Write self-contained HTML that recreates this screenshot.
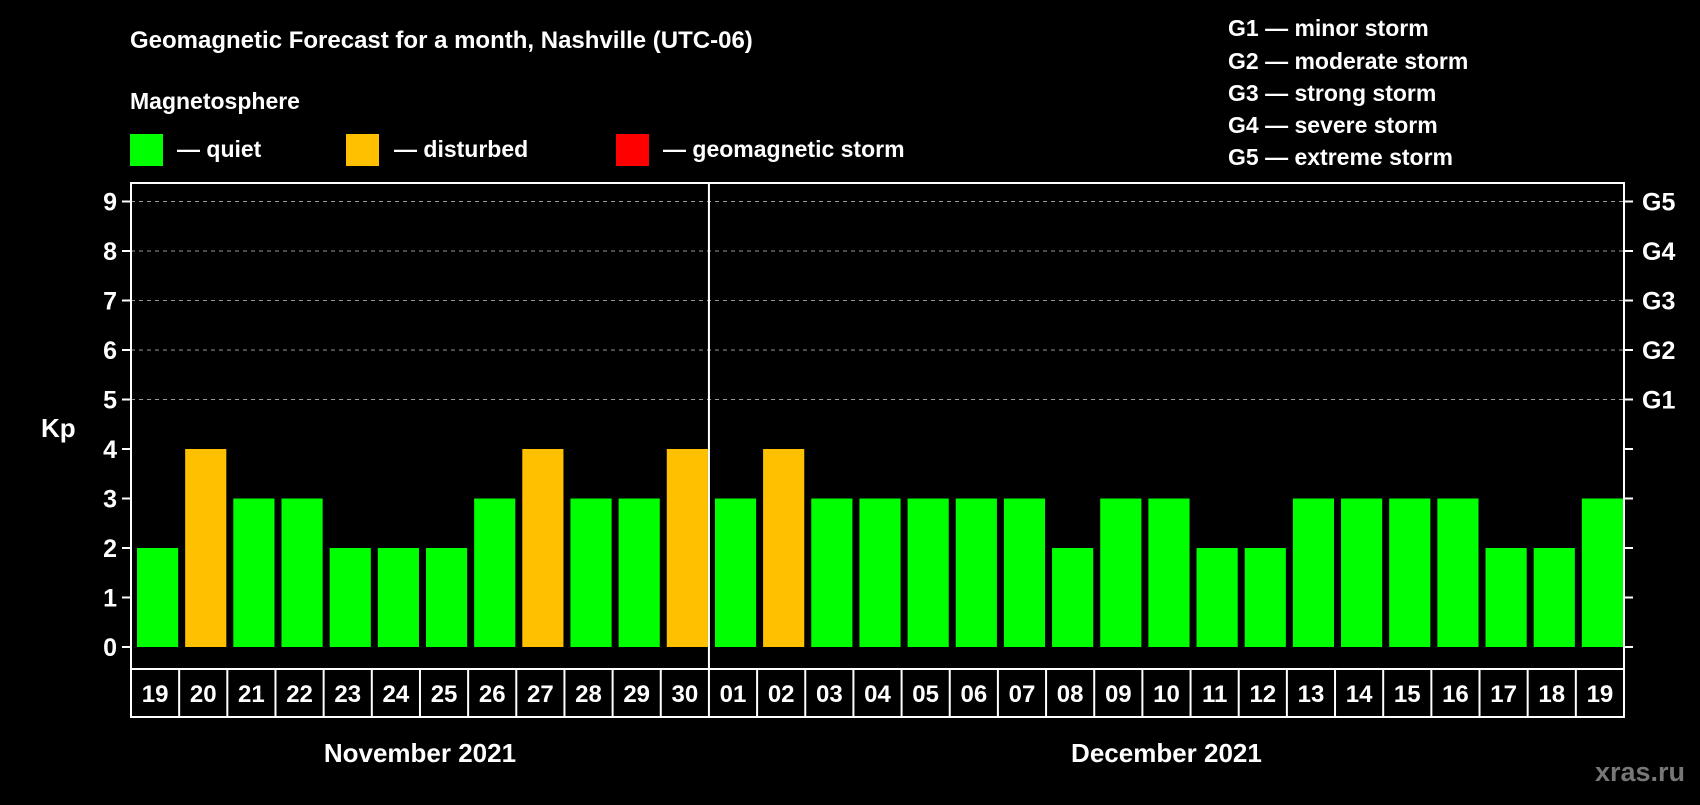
<!DOCTYPE html>
<html><head><meta charset="utf-8"><style>
body{margin:0;background:#000;width:1700px;height:800px;overflow:hidden}
svg text{font-family:"Liberation Sans",Arial,sans-serif;font-weight:bold;fill:#fff}
</style></head><body>
<svg id="c" width="1700" height="800" xmlns="http://www.w3.org/2000/svg">
<text x="130" y="48" font-size="24">Geomagnetic Forecast for a month, Nashville (UTC-06)</text>
<text x="130" y="109" font-size="23">Magnetosphere</text>
<rect x="130" y="134" width="33" height="32" fill="#00ff00"/>
<text x="177" y="157" font-size="23">— quiet</text>
<rect x="346" y="134" width="33" height="32" fill="#ffc000"/>
<text x="394" y="157" font-size="23">— disturbed</text>
<rect x="616" y="134" width="33" height="32" fill="#ff0000"/>
<text x="663" y="157" font-size="23">— geomagnetic storm</text>
<g font-size="23">
<text x="1228" y="36">G1 — minor storm</text>
<text x="1228" y="69">G2 — moderate storm</text>
<text x="1228" y="101">G3 — strong storm</text>
<text x="1228" y="133">G4 — severe storm</text>
<text x="1228" y="165">G5 — extreme storm</text>
</g>
<text x="41" y="437" font-size="26">Kp</text>
<text x="1640" y="781" font-size="27" text-anchor="middle" style="fill:#777">xras.ru</text>
<g id="plot"></g>
</svg>
<script>
const days=["19","20","21","22","23","24","25","26","27","28","29","30","01","02","03","04","05","06","07","08","09","10","11","12","13","14","15","16","17","18","19"];
const kp=[2,4,3,3,2,2,2,3,4,3,3,4,3,4,3,3,3,3,3,2,3,3,2,2,3,3,3,3,2,2,3];
const yTicks=[0,1,2,3,4,5,6,7,8,9];
const gLabels=["G1","G2","G3","G4","G5"];
const months=["November 2021","December 2021"];
const monthDays=[12,19];
const NS="http://www.w3.org/2000/svg";
const L=131,R=1624,T=183,B=669,Y0=647,UNIT=49.5;
const slot=(R-L)/days.length;
const y=v=>Y0-v*UNIT;
const x=i=>L+i*slot;
const g=document.getElementById('plot');
function mk(t,a,p){const e=document.createElementNS(NS,t);for(const k in a)e.setAttribute(k,a[k]);(p||g).appendChild(e);return e;}
// grid
for(let v=5;v<=9;v++){const l=mk('line',{x1:L,x2:R,y1:y(v),y2:y(v),stroke:'#999','stroke-dasharray':'4 4','stroke-width':1});

}
yTicks.forEach(v=>{
const t=mk('line',{x1:L-9,x2:L,y1:y(v),y2:y(v),stroke:'#fff','stroke-width':2});


const r=mk('line',{x1:R,x2:R+9,y1:y(v),y2:y(v),stroke:'#fff','stroke-width':2});


const tx=mk('text',{x:L-14,y:y(v)+9,'font-size':25,'text-anchor':'end'});tx.textContent=v;


});
gLabels.forEach((s,i)=>{const tx=mk('text',{x:1642,y:y(5+i)+9,'font-size':25});tx.textContent=s;

});
// bars
kp.forEach((v,i)=>{
const c=v>=5?'#ff0000':(v>=4?'#ffc000':'#00ff00');
const b=mk('rect',{x:x(i)+6,y:y(v),width:slot-7,height:Y0-y(v),fill:c});


});
// frame
const f=mk('rect',{x:L,y:T,width:R-L,height:B-T,fill:'none',stroke:'#fff','stroke-width':2});


const sep=mk('line',{x1:x(monthDays[0]),x2:x(monthDays[0]),y1:T,y2:B,stroke:'#fff','stroke-width':2});


// date row
const dr=mk('rect',{x:L,y:B,width:R-L,height:48,fill:'none',stroke:'#fff','stroke-width':2});


days.forEach((d,i)=>{
if(i>0){const l=mk('line',{x1:x(i),x2:x(i),y1:B,y2:B+48,stroke:'#fff','stroke-width':2});

}
const t=mk('text',{x:x(i)+slot/2,y:B+33,'font-size':24,'text-anchor':'middle'});t.textContent=d;


});
let s=0;
months.forEach((m,k)=>{
const cx=x(s+monthDays[k]/2);s+=monthDays[k];
const t=mk('text',{x:cx,y:762,'font-size':26,'text-anchor':'middle'});t.textContent=m;


});
</script>
</body></html>
